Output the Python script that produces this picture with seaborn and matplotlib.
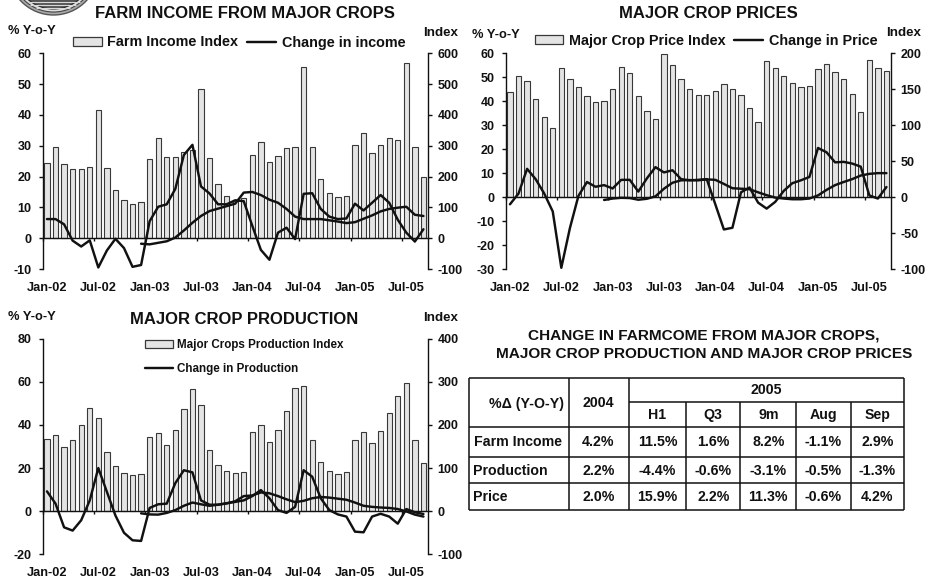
import numpy as np
import pandas as pd
import matplotlib
matplotlib.use("Agg")
import matplotlib.pyplot as plt
from matplotlib.lines import Line2D
from matplotlib.patches import Circle, Patch
import seaborn as sns

months = list(pd.date_range("2002-01-01", "2005-09-01", freq="MS").strftime("%b-%y"))

# Farm income panel
income_index = [245, 295, 240, 225, 223, 230, 415, 228, 157, 125, 110, 117,
                258, 325, 265, 262, 280, 285, 485, 260, 176, 138, 125, 132,
                270, 313, 246, 267, 293, 297, 555, 297, 192, 148, 134, 138,
                302, 341, 275, 304, 325, 319, 567, 295, 200]
income_change = [6.2, 6.2, 4.5, -0.8, -2.7, -0.7, -9.5, -4, -0.2, -3.2, -9.3, -8.7,
                 5.5, 10.2, 11, 16, 27, 30.3, 16.8, 14.5, 11, 11, 12.3, 12,
                 4, -3.8, -7, 1.8, 3.4, -0.3, 14.4, 14.6, 9.5, 7, 6.2, 6.4,
                 11.2, 9, 11.5, 14, 11.5, 6, 1.8, -1.1, 2.9]
income_avg = [-1.8, -2, -1.5, -1, 0.2, 2.5, 5, 7.2, 8.8, 9.6, 10.4, 11.2,
              14.8, 15, 14, 12.5, 11.5, 9.5, 7, 6.2, 6.2, 6.2, 5.8, 5.4, 4.9,
              5.2, 6.3, 7.4, 8.7, 9.5, 9.9, 10.2, 7.6, 7.2]

# Crop price panel
price_index = [146, 169, 161, 137, 111, 95.5, 180, 164, 153, 140, 132, 133,
               151, 181, 173, 140, 120, 108, 199.5, 184, 164, 150, 142, 142,
               148, 157, 151, 142, 124, 105, 189, 180, 169, 158, 153, 154,
               178, 185, 173.5, 164, 143, 118, 191, 179, 176]
price_change = [-3, 1.5, 11.8, 7.5, 1.5, -6, -29.5, -13, 0.5, 6.3, 4.3, 5,
                3.6, 7.2, 7.2, 2.3, 7.8, 12.5, 10.3, 11.2, 7.5, 7, 7.2, 7.5,
                -3, -13.5, -12.8, 2, 4, -2.3, -4.8, -2, 2.6, 5.8, 7, 8.4,
                20.5, 18.7, 14.5, 14.7, 14, 12.7, 0.7, -0.6, 4.2]
price_avg = [-1.2, -0.6, -0.3, -0.4, -1.1, -0.7, 0.3, 3.5, 6, 7, 7.1, 7,
             7.4, 7.2, 5.5, 3.7, 3.5, 3.3, 2, 0.8, -0.2, -0.6, -0.9, -0.9, -0.6,
             0.7, 3, 5, 6.3, 7.5, 9, 9.7, 10, 10]

# Crop production panel
prod_index = [168, 176, 148, 164, 199, 240, 216, 137, 104, 89, 84, 87,
              172, 181, 154, 188, 238, 283, 246, 142, 107, 94, 89, 92,
              183, 199, 161, 188, 233, 285, 291, 166, 114, 93.5, 87, 90,
              166, 183, 159, 185, 228, 268, 298, 165, 112]
prod_change = [9.2, 3.5, -7.5, -9, -4.2, 5, 20, 9, -2, -10, -13.5, -13.8,
               1.5, 3.2, 3.5, 13, 19, 18, 5, 3, 3, 3.7, 4.3, 5,
               7, 9.8, 6, 0.5, -0.8, 2, 19, 16, 6, 0.5, -1.5, -2.5,
               -9.5, -9.8, -2.5, -1.2, -2.5, -5.8, 1, -0.5, -1.3]
prod_avg = [-1, -1.5, -1.6, -0.8, 0.5, 2.5, 4, 3.2, 2.5, 3, 3.6, 4.6,
            7, 7.3, 8.7, 8.3, 7, 5.5, 4.2, 4.8, 6, 6.6, 6.3, 5.8, 5.3,
            4, 2.5, 2, 1.7, 1.5, 1, -0.1, -1.6, -2.5]

table_cols = ["H1", "Q3", "9m", "Aug", "Sep"]
table_rows = ["Farm Income", "Production", "Price"]
table_2004 = ["4.2%", "2.2%", "2.0%"]
table_2005 = [["11.5%", "1.6%", "8.2%", "-1.1%", "2.9%"],
              ["-4.4%", "-0.6%", "-3.1%", "-0.5%", "-1.3%"],
              ["15.9%", "2.2%", "11.3%", "-0.6%", "4.2%"]]

W, H = 926, 578
INK = "#111111"
BAR = "#e4e4e4"
BAR_EDGE = "#383838"
LINE_W = 1.75

sns.set_style("white")
plt.rcParams["font.family"] = ["Liberation Sans", "DejaVu Sans"]
plt.rcParams["font.weight"] = "bold"
plt.rcParams["axes.unicode_minus"] = False

fig = plt.figure(figsize=(W / 100, H / 100), dpi=100, facecolor="white")


def px_axes(x0, y0, x1, y1):
    # axes box given in image pixels, origin top left
    return fig.add_axes([x0 / W, 1 - y1 / H, (x1 - x0) / W, (y1 - y0) / H])


def px_text(x, y, s, size=9, ha="center"):
    fig.text(x / W, 1 - y / H, s, fontsize=size, ha=ha, va="center",
             fontweight="bold", color=INK)


def panel(box, index, change, avg, left_lim, left_step, right_lim, right_step):
    ax = px_axes(*box)
    axr = ax.twinx()

    sns.barplot(x=months, y=index, ax=axr, color=BAR, saturation=1,
                edgecolor=BAR_EDGE, linewidth=0.8, width=0.62)
    sns.lineplot(x=np.arange(len(change)), y=change, ax=ax, color=INK,
                 linewidth=LINE_W, errorbar=None)
    sns.lineplot(x=np.arange(11, 11 + len(avg)), y=avg, ax=ax, color=INK,
                 linewidth=LINE_W, errorbar=None)

    # lines sit in front of the bars
    ax.set_zorder(axr.get_zorder() + 1)
    ax.patch.set_visible(False)

    ax.set_xlim(-0.5, 44.5)
    axr.set_xlim(-0.5, 44.5)
    ax.set_ylim(*left_lim)
    axr.set_ylim(*right_lim)
    ax.set_yticks(np.arange(left_lim[0], left_lim[1] + 1, left_step))
    axr.set_yticks(np.arange(right_lim[0], right_lim[1] + 1, right_step))
    ax.tick_params(axis="y", left=True, length=3, width=1, color=INK,
                   labelsize=9, pad=5, labelcolor=INK)
    axr.tick_params(axis="y", right=True, length=3, width=1, color=INK,
                    labelsize=9, pad=4, labelcolor=INK)
    axr.set_ylabel("")
    axr.set_xlabel("")

    # x axis runs along zero, labels stay at the bottom
    axr.tick_params(axis="x", bottom=False, labelbottom=False)
    ax.set_xticks(np.arange(-0.5, 44.5, 6))
    ax.tick_params(axis="x", bottom=True, length=2.2, width=1, color=INK,
                   labelbottom=False)
    for a in (ax, axr):
        a.spines["top"].set_visible(False)
        a.spines["left"].set_visible(a is ax)
        a.spines["right"].set_visible(a is axr)
        a.spines["bottom"].set_visible(a is ax)
    ax.spines["bottom"].set_position(("data", 0))
    for a, side in ((ax, "left"), (ax, "bottom"), (axr, "right")):
        a.spines[side].set_color(INK)
        a.spines[side].set_linewidth(1)

    sec = ax.secondary_xaxis("bottom")
    sec.set_xticks(np.arange(0, 45, 6), labels=months[::6])
    sec.tick_params(axis="x", length=0, pad=9.5, labelsize=9.2, labelcolor=INK)
    sec.spines["bottom"].set_visible(False)
    return ax


def add_legend(ax, bar_label, line_label, size, anchor, ncol=2, spacing=0.3, hlen=2.0):
    handles = [Patch(facecolor=BAR, edgecolor=BAR_EDGE, linewidth=0.9),
               Line2D([], [], color=INK, linewidth=LINE_W)]
    ax.legend(handles, [bar_label, line_label], ncol=ncol, frameon=False,
              loc="center", bbox_to_anchor=(anchor[0] / W, 1 - anchor[1] / H),
              bbox_transform=fig.transFigure, prop={"size": size, "weight": "bold"},
              handlelength=hlen, handleheight=0.6, handletextpad=0.38,
              columnspacing=0.62, labelspacing=spacing, labelcolor=INK, borderpad=0)


# ---- seal cut off by the top edge
seal = px_axes(0, 0, 120, 30)
seal.set_xlim(0, 120)
seal.set_ylim(30, 0)
seal.axis("off")
seal.add_patch(Circle((53.5, -30), 45, facecolor="#a8a8a8", edgecolor="#555555", linewidth=1))
seal.add_patch(Circle((53.5, -30), 42, facecolor="#e0e0e0", edgecolor="#444444", linewidth=0.8))
seal.add_patch(Circle((53.5, -30), 39, facecolor="#555555", edgecolor="#222222", linewidth=0.8))
seal.hlines([2, 5, 7.5], [28, 30, 36], [80, 76, 70], color="#d8d8d8", linewidth=0.8)

ax1 = panel((42.7, 53.3, 427.7, 269), income_index, income_change, income_avg,
            (-10, 60), 10, (-100, 600), 100)
ax2 = panel((505.7, 53.3, 890.7, 269), price_index, price_change, price_avg,
            (-30, 60), 10, (-100, 200), 50)
ax3 = panel((42.7, 338.7, 427.7, 554.3), prod_index, prod_change, prod_avg,
            (-20, 80), 20, (-100, 400), 100)

add_legend(ax1, "Farm Income Index", "Change in income", 10.4, (239, 42.5))
add_legend(ax2, "Major Crop Price Index", "Change in Price", 10.4, (706, 40.5))
add_legend(ax3, "Major Crops Production Index", "Change in Production", 8.4, (244.5, 357),
           ncol=1, spacing=1.0, hlen=2.4)

px_text(245, 13, "FARM INCOME FROM MAJOR CROPS", 12)
px_text(708, 13, "MAJOR CROP PRICES", 12)
px_text(244, 320, "MAJOR CROP PRODUCTION", 12)
px_text(32, 31, "% Y-o-Y", 9.3)
px_text(441, 33, "Index", 9.6)
px_text(496, 35, "% Y-o-Y", 9.3)
px_text(904, 33, "Index", 9.6)
px_text(32, 317, "% Y-o-Y", 9.3)
px_text(441, 318, "Index", 9.6)

# ---- summary table, drawn in image pixels
px_text(704, 336, "CHANGE IN FARMCOME FROM MAJOR CROPS,", 11.1)
px_text(704, 354, "MAJOR CROP PRODUCTION AND MAJOR CROP PRICES", 11.1)

col_x = [469, 569, 628.7, 686.3, 740.3, 796.3, 850.7, 903.7]
row_y = [378, 402.3, 426.7, 456.7, 483.3, 510]
row_mid = [442, 471, 497]
tab = px_axes(0, 0, W, H)
tab.set_xlim(0, W)
tab.set_ylim(H, 0)
tab.axis("off")
tab.patch.set_visible(False)
tab.hlines([row_y[0], row_y[2], row_y[3], row_y[4], row_y[5]], col_x[0], col_x[-1],
           color=INK, linewidth=1.1)
tab.hlines(row_y[1], col_x[2], col_x[-1], color=INK, linewidth=1.1)
tab.vlines(col_x[:3] + [col_x[-1]], row_y[0], row_y[-1], color=INK, linewidth=1.1)
tab.vlines(col_x[3:-1], row_y[1], row_y[-1], color=INK, linewidth=1.1)

px_text(526.5, 404, "%\u0394 (Y-O-Y)", 10.2)
px_text(598.5, 402.7, "2004", 10.2)
px_text(766, 390, "2005", 10.2)
for j, name in enumerate(table_cols):
    px_text((col_x[j + 2] + col_x[j + 3]) / 2, 414.7, name, 10.2)
for i, name in enumerate(table_rows):
    px_text(473.5, row_mid[i], name, 10.2, ha="left")
    px_text(598.5, row_mid[i], table_2004[i], 10.2)
    for j, val in enumerate(table_2005[i]):
        px_text((col_x[j + 2] + col_x[j + 3]) / 2, row_mid[i], val, 10.2)

fig.savefig("out.png", dpi=100)
